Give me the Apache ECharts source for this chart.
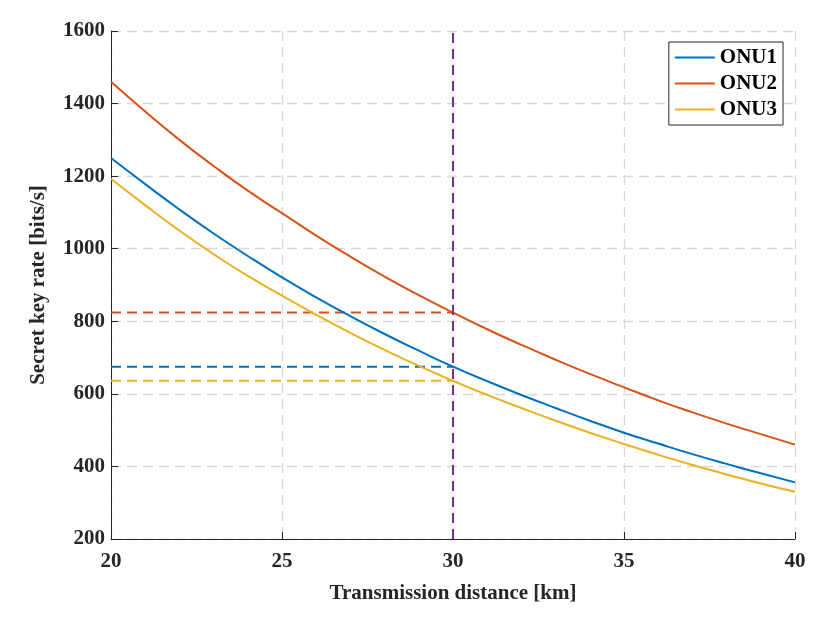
<!DOCTYPE html>
<html>
<head>
<meta charset="utf-8">
<script src="https://cdn.jsdelivr.net/npm/echarts@6/dist/echarts.min.js"></script>
<style>
html,body{margin:0;padding:0;background:#fff;}
#chart{width:830px;height:621px;}
</style>
</head>
<body>
<div id="chart"></div>
<script>
var distances = [20,21,22,23,24,25,26,27,28,29,30,31,32,33,34,35,36,37,38,39,40];
var onu1 = [1250,1178,1108,1042,980,921,866,814,765,719,675,635,597,561,526,493,463,434,407,381,356];
var onu2 = [1460,1378,1300,1228,1160,1098,1036,978,923,872,824,778,735,694,655,618,582,549,518,489,460];
var onu3 = [1193,1120,1050,985,925,871,818,768,721,677,636,597,561,526,493,462,432,404,378,353,330];
var seriesNames = ['ONU1','ONU2','ONU3'];
var markerX = 30;
var markerLevels = [675, 824, 636];
var yTicks = [200,400,600,800,1000,1200,1400,1600];
var xTicks = [20,25,30,35,40];

var colors = ['#0072BD','#D95319','#EDB120'];
var font = 'Liberation Serif';

function pairs(xs, ys){ return xs.map(function(x,i){ return [x, ys[i]]; }); }
var allData = [onu1, onu2, onu3];

var series = [];
allData.forEach(function(d,i){
  series.push({
    name: seriesNames[i], type:'line', data: pairs(distances,d),
    smooth: true, showSymbol:false, symbol:'none',
    lineStyle:{color:colors[i], width:2}, itemStyle:{color:colors[i]}, z:5
  });
});
allData.forEach(function(d,i){
  series.push({
    name: seriesNames[i]+'_ref', type:'line',
    data: [[distances[0], markerLevels[i]],[markerX, markerLevels[i]]],
    showSymbol:false, symbol:'none',
    lineStyle:{color:colors[i], width:2, type:[10,6]}, z:4
  });
});
series.push({
  name:'vline', type:'line',
  data:[[markerX, yTicks[0]],[markerX, yTicks[yTicks.length-1]]],
  showSymbol:false, symbol:'none',
  lineStyle:{color:'#7E2F8E', width:2, type:[10,6]}, z:6
});

var chart = echarts.init(document.getElementById('chart'), null, {renderer:'canvas'});
chart.setOption({
  animation:false,
  backgroundColor:'#fff',
  grid:{left:111, right:35, top:31, bottom:82, containLabel:false},
  legend:{
    data: seriesNames.map(function(n,i){ return {name:n, icon:'rect', itemStyle:{color:colors[i]}}; }),
    orient:'vertical', right:47, top:42,
    itemWidth:40, itemHeight:2, itemGap:5,
    padding:[5,6,5,6],
    backgroundColor:'#fff', borderColor:'#262626', borderWidth:1, borderRadius:0,
    textStyle:{fontFamily:font, fontWeight:'bold', fontSize:21, color:'#000', padding:[0,0,0,0]}
  },
  xAxis:{
    type:'value', min:xTicks[0], max:xTicks[xTicks.length-1], interval:5,
    name:'Transmission distance [km]', nameLocation:'middle', nameGap:44,
    nameTextStyle:{fontFamily:font, fontWeight:'bold', fontSize:21, color:'#262626'},
    axisLine:{show:true, onZero:false, lineStyle:{color:'#262626', width:1}},
    axisTick:{show:true, inside:true, length:7, lineStyle:{color:'#262626'}},
    axisLabel:{fontFamily:font, fontWeight:'bold', fontSize:21, color:'#262626', margin:12},
    splitLine:{show:true, lineStyle:{color:'#d8d8d8', width:1.3, type:[10,6]}}
  },
  yAxis:{
    type:'value', min:yTicks[0], max:yTicks[yTicks.length-1], interval:200,
    name:'Secret key rate [bits/s]', nameLocation:'middle', nameGap:62,
    nameTextStyle:{fontFamily:font, fontWeight:'bold', fontSize:21, color:'#262626'},
    axisLine:{show:true, onZero:false, lineStyle:{color:'#262626', width:1}},
    axisTick:{show:true, inside:true, length:7, lineStyle:{color:'#262626'}},
    axisLabel:{fontFamily:font, fontWeight:'bold', fontSize:21, color:'#262626', margin:6,
      formatter:function(v){ return String(v); }},
    splitLine:{show:true, lineStyle:{color:'#d8d8d8', width:1.3, type:[10,6]}}
  },
  series: series
});
</script>
</body>
</html>
